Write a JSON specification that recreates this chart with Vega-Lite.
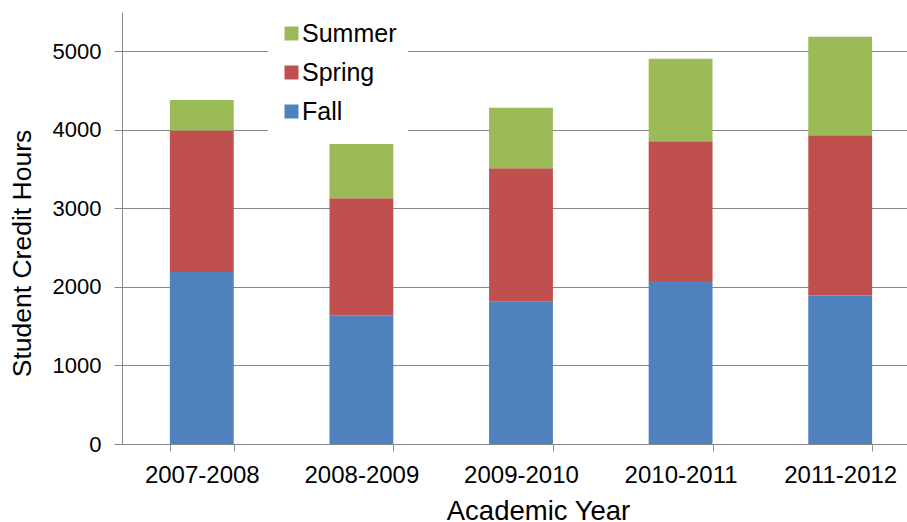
{
  "$schema": "https://vega.github.io/schema/vega-lite/v6.json",
  "autosize": "none",
  "width": 798,
  "height": 432,
  "padding": {"left": 122, "top": 12, "right": -13, "bottom": 78},
  "background": "white",
  "config": {
    "view": {"stroke": null},
    "font": "Liberation Sans"
  },
  "data": {
    "values": [
      {"year": "2007-2008", "term": "Fall", "k": 1, "hours": 2190},
      {"year": "2007-2008", "term": "Spring", "k": 2, "hours": 1800},
      {"year": "2007-2008", "term": "Summer", "k": 3, "hours": 390},
      {"year": "2008-2009", "term": "Fall", "k": 1, "hours": 1640},
      {"year": "2008-2009", "term": "Spring", "k": 2, "hours": 1490},
      {"year": "2008-2009", "term": "Summer", "k": 3, "hours": 690},
      {"year": "2009-2010", "term": "Fall", "k": 1, "hours": 1810},
      {"year": "2009-2010", "term": "Spring", "k": 2, "hours": 1700},
      {"year": "2009-2010", "term": "Summer", "k": 3, "hours": 770},
      {"year": "2010-2011", "term": "Fall", "k": 1, "hours": 2075},
      {"year": "2010-2011", "term": "Spring", "k": 2, "hours": 1780},
      {"year": "2010-2011", "term": "Summer", "k": 3, "hours": 1050},
      {"year": "2011-2012", "term": "Fall", "k": 1, "hours": 1890},
      {"year": "2011-2012", "term": "Spring", "k": 2, "hours": 2040},
      {"year": "2011-2012", "term": "Summer", "k": 3, "hours": 1255}
    ]
  },
  "mark": {"type": "bar"},
  "encoding": {
    "x": {
      "field": "year",
      "type": "nominal",
      "sort": null,
      "scale": {"paddingInner": 0.6, "paddingOuter": 0.3},
      "axis": {
        "title": "Academic Year",
        "titleFontSize": 27.5,
        "titleFontWeight": "normal",
        "titleColor": "#000",
        "titleX": 416,
        "titleY": 75,
        "titleBaseline": "alphabetic",
        "labelAngle": 0,
        "labelFontSize": 24,
        "labelColor": "#000",
        "labelPadding": 12,
        "tickBand": "extent",
        "tickSize": 7,
        "tickColor": "#888888",
        "domainColor": "#888888",
        "grid": false
      }
    },
    "y": {
      "field": "hours",
      "type": "quantitative",
      "stack": "zero",
      "scale": {"domain": [0, 5500], "nice": false},
      "axis": {
        "title": "Student Credit Hours",
        "titleFontSize": 26.5,
        "titleFontWeight": "normal",
        "titleColor": "#000",
        "titleY": 241,
        "titlePadding": 16,
        "values": [0, 1000, 2000, 3000, 4000, 5000],
        "format": "d",
        "labelFontSize": 22,
        "labelColor": "#000",
        "labelPadding": 13,
        "tickSize": 8,
        "tickColor": "#888888",
        "domainColor": "#888888",
        "gridColor": "#888888",
        "gridOpacity": 1
      }
    },
    "color": {
      "field": "term",
      "type": "nominal",
      "scale": {
        "domain": ["Summer", "Spring", "Fall"],
        "range": ["#9BBB59", "#C0504D", "#4F81BD"]
      },
      "legend": {
        "title": null,
        "orient": "none",
        "legendX": 146,
        "legendY": -2,
        "fillColor": "white",
        "padding": 11,
        "symbolType": "square",
        "symbolSize": 196,
        "symbolStrokeWidth": 0,
        "labelFontSize": 25,
        "labelColor": "#000",
        "labelOffset": -2,
        "rowPadding": 13
      }
    },
    "order": {"field": "k", "type": "quantitative", "sort": "ascending"}
  }
}
